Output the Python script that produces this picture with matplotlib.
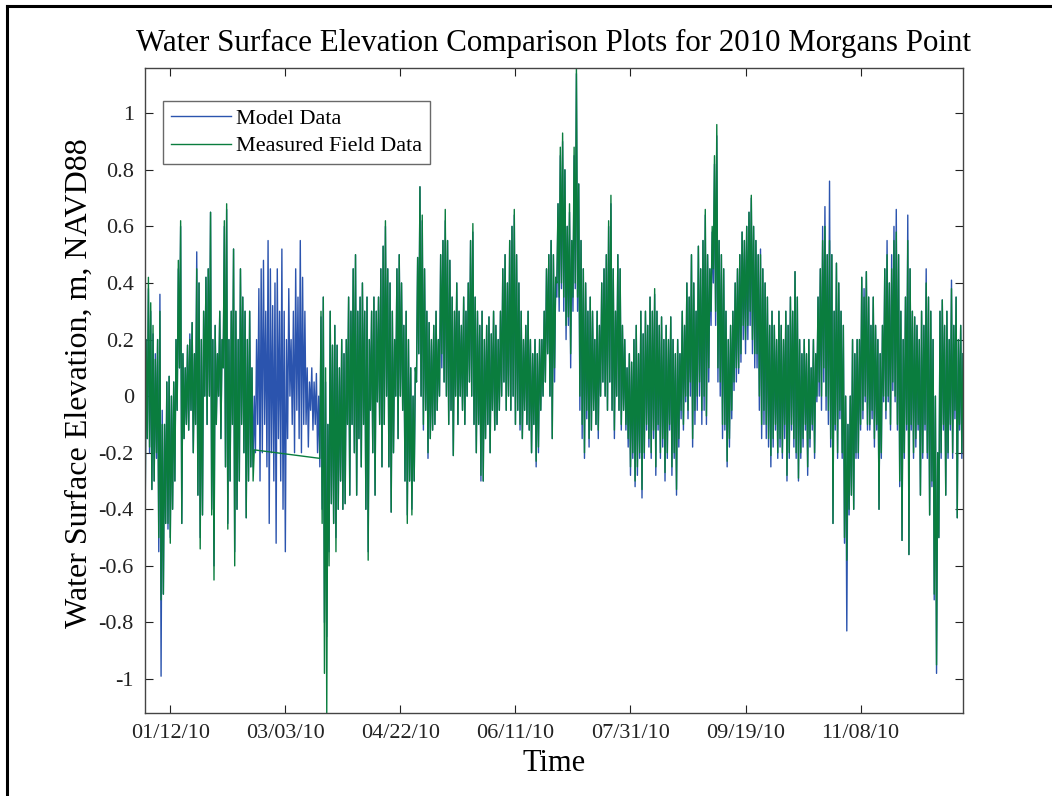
import matplotlib
matplotlib.use('Agg')
import matplotlib.pyplot as plt
import matplotlib.dates as mdates
from matplotlib.lines import Line2D
from matplotlib.ticker import FormatStrFormatter
import pandas as pd

plt.rcParams['font.family'] = 'Liberation Serif'
plt.rcParams['axes.unicode_minus'] = False

START = pd.Timestamp('2010-01-01')

# daily low / high water level (m, NAVD88), one entry per day from 01/01/10
# measured gauge has no record 02/18 - 03/17 (None)
MEAS_HI = [
    0.20, 0.42, 0.33, 0.25, 0.13, 0.20, 0.30, -0.10, -0.10, 0.05,
    0.07, 0.00, 0.05, 0.20, 0.48, 0.62, 0.15, 0.10, 0.18, 0.20,
    0.26, 0.15, 0.45, 0.40, 0.20, 0.30, 0.42, 0.45, 0.65, 0.20,
    0.25, 0.15, 0.30, 0.20, 0.62, 0.68, 0.20, 0.30, 0.52, 0.30,
    0.20, 0.45, 0.35, 0.30, 0.20, 0.30, 0.10, -0.19,
    None, None, None, None, None, None, None, None, None, None, None, None, None, None,
    None, None, None, None, None, None, None, None, None, None, None, None, None, None,
    0.30, 0.35, 0.10, -0.10,
    0.30, 0.18, 0.25, 0.18, 0.10, 0.20, 0.15, 0.20, 0.35, 0.30,
    0.45, 0.50, 0.30, 0.35, 0.40, 0.30, 0.35, 0.20, 0.30, 0.35,
    0.30, 0.35, 0.45, 0.53, 0.62, 0.45, 0.40, 0.30, 0.20, 0.45,
    0.50, 0.40, 0.25, 0.30, 0.20, 0.10, 0.00, 0.10, 0.49, 0.74,
    0.64, 0.45, 0.30, 0.26, 0.20, 0.25, 0.30, 0.20, 0.50, 0.55,
    0.66, 0.55, 0.48, 0.35, 0.30, 0.40, 0.30, 0.25, 0.35, 0.30,
    0.40, 0.55, 0.61, 0.35, 0.30, 0.25, 0.30, 0.20, 0.25, 0.28,
    0.22, 0.30, 0.25, 0.20, 0.30, 0.45, 0.50, 0.40, 0.55, 0.60,
    0.66, 0.50, 0.40, 0.30, 0.20, 0.25, 0.30, 0.20, 0.15, 0.20,
    0.15, 0.20, 0.20, 0.30, 0.45, 0.50, 0.55, 0.50, 0.42, 0.68,
    0.88, 0.93, 0.80, 0.60, 0.68, 0.55, 0.88, 1.16, 0.75, 0.55,
    0.45, 0.40, 0.30, 0.35, 0.30, 0.20, 0.30, 0.25, 0.40, 0.45,
    0.50, 0.62, 0.71, 0.45, 0.30, 0.50, 0.45, 0.25, 0.20, 0.10,
    0.15, 0.12, 0.20, 0.25, 0.15, 0.30, 0.22, 0.30, 0.25, 0.35,
    0.30, 0.38, 0.30, 0.25, 0.28, 0.20, 0.25, 0.20, 0.28, 0.20,
    0.15, 0.20, 0.15, 0.30, 0.25, 0.40, 0.35, 0.50, 0.40, 0.30,
    0.53, 0.45, 0.55, 0.66, 0.50, 0.45, 0.60, 0.85, 0.96, 0.55,
    0.50, 0.45, 0.30, 0.20, 0.25, 0.30, 0.40, 0.45, 0.50, 0.58,
    0.55, 0.60, 0.65, 0.71, 0.60, 0.55, 0.50, 0.50, 0.45, 0.40,
    0.35, 0.25, 0.30, 0.25, 0.20, 0.30, 0.25, 0.20, 0.30, 0.25,
    0.35, 0.30, 0.44, 0.35, 0.20, 0.15, 0.20, 0.15, 0.20, 0.10,
    0.20, 0.15, 0.35, 0.45, 0.55, 0.60, 0.50, 0.55, 0.50, 0.30,
    0.47, 0.40, 0.30, 0.25, 0.00, -0.10, 0.00, 0.20, 0.15, 0.20,
    0.20, 0.42, 0.35, 0.44, 0.35, 0.25, 0.35, 0.25, 0.20, 0.15,
    0.25, 0.45, 0.50, 0.40, 0.45, 0.55, 0.58, 0.50, 0.30, 0.20,
    0.35, 0.55, 0.45, 0.30, 0.28, 0.25, 0.20, 0.30, 0.25, 0.40,
    0.35, 0.30, 0.20, 0.00, -0.20, 0.30, 0.34, 0.25, 0.30, 0.20,
    0.38, 0.25, 0.35, 0.20, 0.25, 0.15,
]
MEAS_LO = [
    -0.55, -0.15, -0.18, -0.33, -0.30, -0.20, -0.50, -0.72, -0.70, -0.45,
    -0.45, -0.52, -0.40, -0.30, -0.05, 0.10, -0.45, -0.15, -0.10, -0.12,
    -0.05, -0.20, -0.10, -0.35, -0.54, -0.42, 0.00, -0.10, 0.00, -0.42,
    -0.65, -0.10, 0.00, -0.15, 0.10, -0.25, -0.47, -0.30, -0.10, -0.60,
    -0.40, -0.30, -0.10, -0.20, -0.43, -0.30, -0.25, -0.30,
    None, None, None, None, None, None, None, None, None, None, None, None, None, None,
    None, None, None, None, None, None, None, None, None, None, None, None, None, None,
    -0.22, -0.45, -0.98, -1.12,
    -0.60, -0.38, -0.45, -0.55, -0.40, -0.30, -0.40, -0.38, -0.10, -0.35,
    -0.10, -0.20, -0.35, -0.15, -0.25, -0.10, -0.40, -0.58, -0.05, -0.20,
    -0.35, -0.02, -0.10, -0.25, -0.10, 0.00, -0.25, -0.41, -0.20, 0.00,
    -0.15, 0.00, -0.05, -0.30, -0.45, -0.30, -0.42, -0.30, 0.05, 0.15,
    0.00, -0.10, -0.05, -0.20, -0.15, -0.12, -0.10, -0.05, 0.00, 0.15,
    0.05, 0.00, -0.10, -0.05, -0.21, 0.00, -0.10, 0.00, -0.05, -0.10,
    0.00, 0.05, 0.00, -0.10, -0.20, -0.10, -0.28, -0.30, -0.15, -0.10,
    -0.20, -0.05, -0.12, -0.10, -0.05, 0.00, 0.05, -0.05, 0.00, -0.05,
    0.00, -0.10, -0.05, -0.10, -0.15, -0.05, -0.10, -0.12, -0.20, -0.10,
    -0.23, -0.18, -0.05, 0.00, 0.05, 0.15, 0.00, -0.15, 0.10, 0.40,
    0.35, 0.40, 0.35, 0.25, 0.28, 0.15, 0.35, 0.40, 0.35, 0.00,
    -0.10, -0.20, -0.05, -0.15, -0.12, -0.05, -0.10, -0.12, 0.00, 0.05,
    0.00, -0.05, 0.05, -0.05, -0.12, 0.00, -0.05, -0.10, -0.05, -0.10,
    -0.15, -0.25, -0.20, -0.30, -0.25, -0.20, -0.33, -0.20, -0.10, -0.15,
    -0.20, -0.12, -0.25, -0.10, -0.20, -0.15, -0.27, -0.20, -0.10, -0.25,
    -0.20, -0.33, -0.15, -0.05, -0.10, 0.00, -0.05, 0.05, -0.15, -0.05,
    0.00, 0.05, -0.05, 0.00, -0.07, 0.10, 0.30, 0.45, 0.30, 0.10,
    0.05, -0.10, -0.10, -0.23, -0.15, -0.05, 0.05, 0.10, 0.10, 0.15,
    0.25, 0.20, 0.25, 0.30, 0.20, 0.15, 0.15, 0.00, -0.10, -0.05,
    -0.10, -0.15, -0.21, -0.15, -0.10, -0.20, -0.15, -0.20, -0.10, -0.28,
    -0.20, -0.10, -0.15, -0.20, -0.29, -0.20, -0.15, -0.10, -0.25, -0.15,
    -0.10, -0.20, 0.00, 0.05, 0.00, 0.10, 0.00, -0.05, -0.15, -0.45,
    -0.10, -0.20, -0.05, -0.20, -0.50, -0.58, -0.40, -0.35, -0.40, -0.20,
    -0.20, -0.10, -0.05, 0.00, -0.10, -0.10, -0.05, -0.15, -0.10, -0.40,
    -0.20, 0.00, -0.05, 0.00, -0.10, 0.05, 0.00, -0.10, -0.30, -0.51,
    -0.20, -0.10, -0.56, -0.10, -0.20, -0.15, -0.10, -0.35, -0.20, -0.10,
    -0.20, -0.42, -0.30, -0.70, -0.95, -0.50, -0.20, -0.10, -0.35, -0.20,
    -0.10, -0.20, -0.05, -0.43, -0.10, -0.20,
]
MODEL_HI = [
    0.20, 0.38, 0.30, 0.22, 0.15, 0.20, 0.36, -0.05, -0.10, 0.05,
    0.07, 0.00, 0.05, 0.20, 0.45, 0.60, 0.15, 0.10, 0.18, 0.22,
    0.26, 0.15, 0.51, 0.40, 0.20, 0.30, 0.42, 0.45, 0.65, 0.20,
    0.25, 0.15, 0.30, 0.20, 0.60, 0.66, 0.20, 0.30, 0.52, 0.30,
    0.20, 0.45, 0.35, 0.30, 0.20, 0.30, 0.10, 0.00,
    0.20, 0.38, 0.45, 0.48, 0.30, 0.55, 0.45, 0.32, 0.40, 0.45, 0.30, 0.52, 0.30, 0.20,
    0.38, 0.20, 0.30, 0.45, 0.35, 0.55, 0.42, 0.30, 0.10, 0.05, 0.10, 0.05, 0.08, 0.00,
    0.28, 0.35, 0.05, -0.10,
    0.30, 0.18, 0.25, 0.18, 0.10, 0.20, 0.15, 0.20, 0.35, 0.30,
    0.45, 0.50, 0.30, 0.35, 0.40, 0.30, 0.35, 0.20, 0.30, 0.35,
    0.30, 0.35, 0.45, 0.53, 0.60, 0.45, 0.40, 0.30, 0.20, 0.45,
    0.50, 0.40, 0.25, 0.30, 0.20, 0.10, 0.00, 0.10, 0.49, 0.74,
    0.62, 0.45, 0.30, 0.26, 0.20, 0.25, 0.30, 0.20, 0.50, 0.55,
    0.62, 0.55, 0.48, 0.35, 0.30, 0.40, 0.30, 0.25, 0.35, 0.30,
    0.40, 0.55, 0.58, 0.35, 0.30, 0.25, 0.30, 0.20, 0.25, 0.28,
    0.22, 0.30, 0.25, 0.20, 0.30, 0.45, 0.50, 0.40, 0.55, 0.60,
    0.64, 0.50, 0.40, 0.30, 0.20, 0.25, 0.30, 0.20, 0.15, 0.20,
    0.15, 0.20, 0.20, 0.30, 0.45, 0.50, 0.55, 0.50, 0.42, 0.68,
    0.85, 0.90, 0.80, 0.60, 0.65, 0.55, 0.85, 1.14, 0.75, 0.55,
    0.45, 0.40, 0.30, 0.35, 0.30, 0.20, 0.30, 0.25, 0.40, 0.45,
    0.50, 0.60, 0.68, 0.45, 0.30, 0.50, 0.45, 0.25, 0.20, 0.10,
    0.15, 0.12, 0.20, 0.25, 0.15, 0.30, 0.22, 0.30, 0.25, 0.35,
    0.30, 0.36, 0.30, 0.25, 0.28, 0.20, 0.25, 0.20, 0.28, 0.20,
    0.15, 0.20, 0.15, 0.30, 0.25, 0.40, 0.35, 0.50, 0.40, 0.30,
    0.53, 0.45, 0.55, 0.64, 0.50, 0.45, 0.58, 0.82, 0.92, 0.55,
    0.50, 0.45, 0.30, 0.20, 0.25, 0.30, 0.40, 0.45, 0.50, 0.58,
    0.55, 0.60, 0.65, 0.70, 0.60, 0.55, 0.50, 0.52, 0.45, 0.40,
    0.35, 0.25, 0.30, 0.25, 0.20, 0.30, 0.25, 0.20, 0.30, 0.25,
    0.35, 0.30, 0.44, 0.35, 0.20, 0.15, 0.20, 0.15, 0.20, 0.10,
    0.20, 0.15, 0.35, 0.45, 0.60, 0.67, 0.50, 0.76, 0.50, 0.30,
    0.47, 0.40, 0.30, 0.25, 0.00, -0.10, 0.00, 0.20, 0.15, 0.20,
    0.20, 0.42, 0.38, 0.44, 0.35, 0.25, 0.35, 0.25, 0.20, 0.15,
    0.25, 0.45, 0.55, 0.40, 0.50, 0.60, 0.66, 0.50, 0.30, 0.20,
    0.35, 0.64, 0.45, 0.30, 0.28, 0.25, 0.20, 0.30, 0.25, 0.45,
    0.35, 0.30, 0.20, 0.00, -0.20, 0.30, 0.34, 0.25, 0.30, 0.20,
    0.41, 0.25, 0.35, 0.20, 0.25, 0.15,
]
MODEL_LO = [
    -0.57, -0.15, -0.20, -0.33, -0.30, -0.22, -0.55, -0.99, -0.70, -0.45,
    -0.47, -0.50, -0.40, -0.30, -0.05, 0.10, -0.45, -0.15, -0.10, -0.12,
    -0.05, -0.20, -0.10, -0.35, -0.50, -0.42, 0.00, -0.10, 0.00, -0.40,
    -0.60, -0.10, 0.00, -0.15, 0.10, -0.25, -0.45, -0.30, -0.10, -0.55,
    -0.40, -0.30, -0.10, -0.20, -0.43, -0.30, -0.25, -0.25,
    -0.20, -0.10, -0.30, -0.20, -0.10, -0.25, -0.45, -0.20, -0.30, -0.52, -0.15, -0.30, -0.40, -0.55,
    -0.15, 0.00, -0.10, -0.20, -0.05, -0.15, -0.20, -0.10, -0.10, -0.18, -0.05, -0.12, -0.10, -0.20,
    -0.25, -0.40, -0.80, -0.85,
    -0.55, -0.38, -0.45, -0.50, -0.40, -0.30, -0.40, -0.38, -0.10, -0.35,
    -0.10, -0.20, -0.35, -0.15, -0.25, -0.10, -0.40, -0.55, -0.05, -0.20,
    -0.35, -0.02, -0.10, -0.25, -0.10, 0.00, -0.25, -0.41, -0.20, 0.00,
    -0.15, 0.00, -0.05, -0.30, -0.42, -0.30, -0.40, -0.30, 0.05, 0.15,
    0.00, -0.12, -0.05, -0.22, -0.15, -0.12, -0.10, -0.05, 0.00, 0.10,
    0.05, 0.00, -0.10, -0.05, -0.21, 0.00, -0.10, 0.00, -0.05, -0.10,
    0.00, 0.05, 0.00, -0.10, -0.20, -0.10, -0.30, -0.30, -0.15, -0.10,
    -0.20, -0.05, -0.12, -0.10, -0.05, 0.00, 0.05, -0.05, 0.00, -0.05,
    0.00, -0.10, -0.05, -0.12, -0.15, -0.05, -0.10, -0.12, -0.20, -0.10,
    -0.25, -0.20, -0.05, 0.00, 0.05, 0.15, 0.00, -0.15, 0.05, 0.35,
    0.30, 0.38, 0.30, 0.20, 0.25, 0.10, 0.30, 0.38, 0.30, -0.05,
    -0.15, -0.22, -0.08, -0.18, -0.12, -0.05, -0.10, -0.15, 0.00, 0.05,
    0.00, -0.05, 0.05, -0.05, -0.15, 0.00, -0.05, -0.12, -0.05, -0.12,
    -0.18, -0.28, -0.22, -0.32, -0.28, -0.22, -0.36, -0.22, -0.12, -0.18,
    -0.22, -0.15, -0.28, -0.12, -0.22, -0.18, -0.30, -0.22, -0.12, -0.28,
    -0.22, -0.35, -0.18, -0.08, -0.12, -0.02, -0.08, 0.00, -0.18, -0.10,
    -0.05, 0.00, -0.10, -0.05, -0.10, 0.05, 0.25, 0.40, 0.25, 0.05,
    0.00, -0.15, -0.12, -0.25, -0.18, -0.08, 0.02, 0.05, 0.08, 0.12,
    0.20, 0.15, 0.20, 0.25, 0.15, 0.10, 0.10, -0.05, -0.15, -0.10,
    -0.15, -0.18, -0.25, -0.18, -0.12, -0.22, -0.18, -0.22, -0.15, -0.30,
    -0.22, -0.12, -0.18, -0.22, -0.30, -0.22, -0.18, -0.12, -0.28, -0.18,
    -0.12, -0.22, -0.02, 0.00, -0.05, 0.05, -0.05, -0.10, -0.18, -0.45,
    -0.12, -0.22, -0.08, -0.22, -0.52, -0.83, -0.42, -0.35, -0.40, -0.22,
    -0.22, -0.12, -0.08, -0.02, -0.12, -0.12, -0.08, -0.18, -0.12, -0.40,
    -0.22, -0.02, -0.08, -0.02, -0.12, 0.02, -0.02, -0.12, -0.32, -0.51,
    -0.22, -0.12, -0.56, -0.12, -0.22, -0.18, -0.12, -0.35, -0.22, -0.12,
    -0.22, -0.42, -0.32, -0.72, -0.98, -0.50, -0.22, -0.12, -0.35, -0.22,
    -0.12, -0.22, -0.08, -0.43, -0.12, -0.22,
]

TICK_LABELS = ['01/12/10', '03/03/10', '04/22/10', '06/11/10',
               '07/31/10', '09/19/10', '11/08/10']
Y_TICKS = [-1, -0.8, -0.6, -0.4, -0.2, 0, 0.2, 0.4, 0.6, 0.8, 1]

MODEL_COLOR = '#2B54AE'
MEAS_COLOR = '#0A7D3E'


def to_series(hi, lo):
    # each day drawn as low then high, like the raw tide record zig-zag
    t, v = [], []
    for d, (h, l) in enumerate(zip(hi, lo)):
        if h is None:
            continue
        t += [START + pd.Timedelta(hours=24 * d), START + pd.Timedelta(hours=24 * d + 12)]
        v += [l, h]
    return pd.Series(v, index=pd.DatetimeIndex(t))


def main():
    model = to_series(MODEL_HI, MODEL_LO)
    meas = to_series(MEAS_HI, MEAS_LO)

    fig = plt.figure(figsize=(10.52, 7.96), dpi=100)
    ax = fig.add_axes([0.1378, 0.1043, 0.7776, 0.8103])
    ax.plot(model.index, model.values, color=MODEL_COLOR, lw=1.0, label='Model Data')
    ax.plot(meas.index, meas.values, color=MEAS_COLOR, lw=1.0, label='Measured Field Data')

    allv = pd.concat([model, meas])
    ax.set_xlim(allv.index.min(), allv.index.max())
    ax.set_ylim(allv.min(), allv.max())

    ax.set_xticks([pd.Timestamp(s) for s in TICK_LABELS])
    ax.xaxis.set_major_formatter(mdates.DateFormatter('%m/%d/%y'))
    ax.set_yticks(Y_TICKS)
    ax.yaxis.set_major_formatter(FormatStrFormatter('%g'))
    ax.tick_params(direction='in', length=6, width=0.8, top=True, right=True,
                   labelsize=16, colors='#222222', pad=8)
    for sp in ax.spines.values():
        sp.set_color('#444444')
        sp.set_linewidth(1.0)

    ax.set_title('Water Surface Elevation Comparison Plots for 2010 Morgans Point',
                 fontsize=22.3, pad=12)
    ax.set_xlabel('Time', fontsize=22, labelpad=4)
    ax.set_ylabel('Water Surface Elevation, m, NAVD88', fontsize=23)
    ax.yaxis.set_label_coords(-0.062, 0.512)

    leg = ax.legend(loc='upper left', bbox_to_anchor=(0.022, 0.949), borderaxespad=0,
                    fancybox=False, fontsize=16, handlelength=2.7, handletextpad=0.25,
                    borderpad=0.35, labelspacing=0.3)
    leg.get_frame().set_edgecolor('#444444')
    leg.get_frame().set_linewidth(1.0)

    # page border visible at the top and left of the exported picture
    fig.add_artist(Line2D([0.0067, 0.0067], [0.0, 0.9925], transform=fig.transFigure,
                          color='black', lw=2.2))
    fig.add_artist(Line2D([0.0067, 1.0], [0.9925, 0.9925], transform=fig.transFigure,
                          color='black', lw=2.2))

    fig.savefig('out.png', dpi=100)


if __name__ == '__main__':
    main()
